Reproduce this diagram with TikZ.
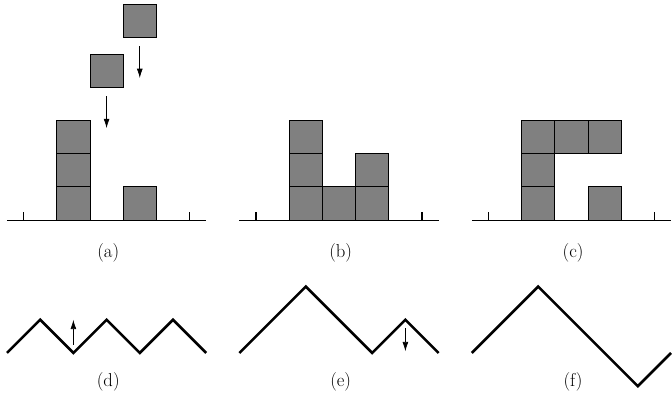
\documentclass[tikz,border=0pt]{standalone}
\usetikzlibrary{arrows.meta}

\begin{document}
\begin{tikzpicture}[
  blk/.style={draw,line width=0.8pt,fill=gray,minimum size=1cm,inner sep=0pt,outer sep=0pt},
  ground/.style={line width=0.9pt},
  chain/.style={line width=2.2pt},
  fall/.style={-{Latex[length=8pt,width=5pt]},line width=0.6pt},
  lbl/.style={font=\fontsize{16}{18}\selectfont}]
\useasboundingbox (-0.21,-5.48) rectangle (20.03,6.63);

\foreach \x in {0,7,14}
  \draw[ground] (\x,0) -- ++(6,0) (\x+0.5,0) -- ++(0,0.25) (\x+5.5,0) -- ++(0,0.25);

\node[blk] (a1) at (2,0.5) {};
\node[blk] (a2) at (2,1.5) {};
\node[blk] (a3) at (2,2.5) {};
\node[blk] (a4) at (4,0.5) {};
\node[blk] (a5) at (3,4.5) {};
\node[blk] (a6) at (4,6) {};
\coordinate (fa5) at (3,2.77);
\coordinate (fa6) at (4,4.28);
\draw[fall] ([yshift=-0.27cm]a5.south) -- (fa5);
\draw[fall] ([yshift=-0.26cm]a6.south) -- (fa6);

\node[blk] (b1) at (9,0.5) {};
\node[blk] (b2) at (9,1.5) {};
\node[blk] (b3) at (9,2.5) {};
\node[blk] (b4) at (10,0.5) {};
\node[blk] (b5) at (11,0.5) {};
\node[blk] (b6) at (11,1.5) {};

\node[blk] (c1) at (16,0.5) {};
\node[blk] (c2) at (16,1.5) {};
\node[blk] (c3) at (16,2.5) {};
\node[blk] (c4) at (17,2.5) {};
\node[blk] (c5) at (18,2.5) {};
\node[blk] (c6) at (18,0.5) {};

\draw[chain] (0,-4) -- (1,-3) -- (2,-4) -- (3,-3) -- (4,-4) -- (5,-3) -- (6,-4);
\coordinate (d0) at (2,-3.75);
\coordinate (d1) at (2,-3.0);
\draw[fall] (d0) -- (d1);

\draw[chain] (7,-4) -- (9,-2) -- (11,-4) -- (12,-3) -- (13,-4);
\coordinate (e0) at (12,-3.25);
\coordinate (e1) at (12,-3.95);
\draw[fall] (e0) -- (e1);

\draw[chain] (14,-4) -- (16,-2) -- (19,-5) -- (20,-4);

\node[lbl] (la) at (3.05,-0.99) {(a)};
\node[lbl] (lb) at (10.05,-0.99) {(b)};
\node[lbl] (lc) at (17.05,-0.99) {(c)};
\node[lbl] (ld) at (3.05,-4.87) {(d)};
\node[lbl] (le) at (10.05,-4.87) {(e)};
\node[lbl] (lf) at (17.05,-4.87) {(f)};
\end{tikzpicture}
\end{document}
